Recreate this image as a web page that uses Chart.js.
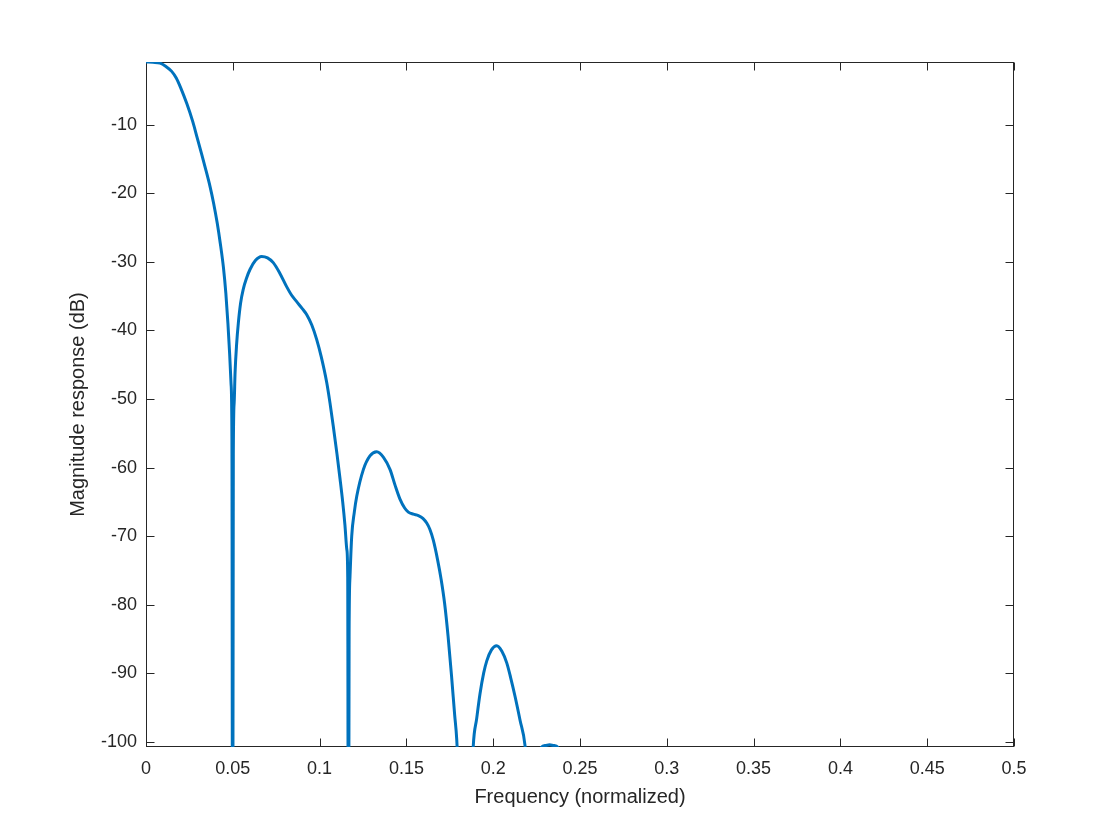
<!DOCTYPE html>
<html>
<head>
<meta charset="utf-8">
<script src="https://cdn.jsdelivr.net/npm/chart.js@4.4.1/dist/chart.umd.min.js"></script>
<style>
  html, body { margin: 0; padding: 0; background: #fff; }
  #wrap { width: 1120px; height: 840px; }
</style>
</head>
<body>
<div id="wrap"><canvas id="magChart" width="1120" height="840"></canvas></div>
<script>
/* magnitude response; values below the axis floor are off-chart estimates */
var freq = [
  0, 0.004, 0.0081, 0.0115, 0.0148, 0.0175, 0.0200, 0.0235, 0.0269, 0.0295,
  0.0321, 0.0345, 0.0369, 0.0390, 0.0410, 0.0428, 0.0446, 0.0460, 0.0472, 0.0482,
  0.0490, 0.0495, 0.0499, 0.0503, 0.0508, 0.0513, 0.0522, 0.0532, 0.0545, 0.0560,
  0.0580, 0.0599, 0.0630, 0.0666, 0.0700, 0.0733, 0.0770, 0.0810, 0.0840, 0.0868,
  0.0900, 0.0926, 0.0955, 0.0983, 0.1010, 0.1041, 0.1060, 0.1079, 0.1100, 0.1118,
  0.1133, 0.1146, 0.1157, 0.1162, 0.1166, 0.1170, 0.1175, 0.1185, 0.1200, 0.1214,
  0.1252, 0.1290, 0.1329, 0.1368, 0.1406, 0.1435, 0.1463, 0.1490, 0.1511, 0.1540,
  0.1569, 0.1595, 0.1617, 0.1635, 0.1655, 0.1680, 0.1700, 0.1720, 0.1740, 0.1760,
  0.1778, 0.1790, 0.1815, 0.1840, 0.1865, 0.1885, 0.1905, 0.1924, 0.1945, 0.1963,
  0.1990, 0.2020, 0.2050, 0.2078, 0.2100, 0.2126, 0.2155, 0.2183, 0.2205, 0.2230,
  0.2255, 0.2278, 0.2300, 0.2325, 0.2350, 0.2372, 0.2390, 0.2420, 0.2500, 0.3000,
  0.3500, 0.4000, 0.4500, 0.5000
];
var magDb = [
  -0.83, -0.88, -1.0, -1.5, -2.2, -3.2, -4.6, -6.9, -9.5, -11.9,
  -14.3, -16.6, -19.0, -21.5, -24.3, -27.3, -30.8, -34.6, -39.0, -43.5,
  -47.8, -56.0, -140, -58.0, -50.5, -46.2, -42.0, -38.9, -36.0, -34.0,
  -32.3, -31.1, -29.8, -29.2, -29.4, -30.1, -31.6, -33.6, -34.9, -35.8,
  -36.8, -37.7, -39.2, -41.3, -43.9, -47.6, -50.6, -54.0, -58.0, -61.7,
  -65.0, -68.4, -72.0, -76.0, -140, -84.0, -76.0, -70.0, -66.5, -64.2,
  -60.3, -58.3, -57.7, -58.5, -60.3, -62.6, -64.6, -65.9, -66.5, -66.8,
  -67.0, -67.4, -68.1, -69.0, -70.6, -73.5, -76.3, -79.8, -84.6, -90.4,
  -96.1, -99.7, -115, -130, -115, -100.7, -96.6, -93.0, -90.0, -88.2,
  -86.6, -86.0, -86.8, -88.5, -90.6, -93.4, -96.9, -100.5, -108, -125,
  -106, -100.8, -100.55, -100.45, -100.55, -100.8, -105, -125, -112, -120,
  -122, -125, -125, -130
];
var xTicks = [0, 0.05, 0.1, 0.15, 0.2, 0.25, 0.3, 0.35, 0.4, 0.45, 0.5];
var xTickLabels = ["0", "0.05", "0.1", "0.15", "0.2", "0.25", "0.3", "0.35", "0.4", "0.45", "0.5"];
var yTicks = [-100, -90, -80, -70, -60, -50, -40, -30, -20, -10];
var yTickLabels = ["-100", "-90", "-80", "-70", "-60", "-50", "-40", "-30", "-20", "-10"];
var yMin = -100.77;
var yMax = -0.83;

var textColor = "#262626";
var fontFamily = "'Liberation Sans', Arial, Helvetica, sans-serif";

// MATLAB style box with ticks pointing inward on all four sides
var boxPlugin = {
  id: "boxPlugin",
  beforeDatasetsDraw: function (chart) {
    var ctx = chart.ctx;
    var a = chart.chartArea;
    var xs = chart.scales.x;
    var ys = chart.scales.y;
    var tl = 8;
    var l = Math.round(a.left) + 0.5, r = Math.round(a.right) - 0.5;
    var t = Math.round(a.top) + 0.5, b = Math.round(a.bottom) - 0.5;
    ctx.save();
    ctx.strokeStyle = textColor;
    ctx.lineWidth = 1;
    ctx.strokeRect(l, t, r - l, b - t);
    ctx.beginPath();
    xTicks.forEach(function (v) {
      var px = Math.round(xs.getPixelForValue(v)) + 0.5;
      ctx.moveTo(px, b); ctx.lineTo(px, b - tl);
      ctx.moveTo(px, t); ctx.lineTo(px, t + tl);
    });
    yTicks.forEach(function (v) {
      var py = Math.round(ys.getPixelForValue(v)) + 0.5;
      ctx.moveTo(l, py); ctx.lineTo(l + tl, py);
      ctx.moveTo(r, py); ctx.lineTo(r - tl, py);
    });
    ctx.stroke();
    ctx.restore();
  }
};

window.onload = function () {
  var ctx = document.getElementById("magChart").getContext("2d");
  var points = freq.map(function (f, i) { return { x: f, y: magDb[i] }; });

  window.magChart = new Chart(ctx, {
    type: "line",
    data: {
      datasets: [{
        label: "Magnitude",
        data: points,
        borderColor: "#0072BD",
        borderWidth: 3,
        pointRadius: 0,
        fill: false,
        cubicInterpolationMode: "monotone"
      }]
    },
    options: {
      responsive: false,
      animation: false,
      layout: { padding: { top: 62, right: 106, left: 0, bottom: 0 } },
      plugins: {
        legend: { display: false },
        tooltip: { enabled: false }
      },
      scales: {
        x: {
          type: "linear",
          min: 0,
          max: 0.5,
          grid: { display: false, drawTicks: false },
          border: { display: false },
          afterBuildTicks: function (scale) {
            scale.ticks = xTicks.map(function (v) { return { value: v }; });
          },
          afterFit: function (scale) { scale.height = 93; },
          ticks: {
            color: textColor,
            padding: 11,
            maxRotation: 0,
            font: { family: fontFamily, size: 18 },
            callback: function (value, index) { return xTickLabels[index]; }
          },
          title: {
            display: true,
            text: "Frequency (normalized)",
            color: textColor,
            font: { family: fontFamily, size: 20 },
            padding: { top: 0, bottom: 31 }
          }
        },
        y: {
          type: "linear",
          min: yMin,
          max: yMax,
          grid: { display: false, drawTicks: false },
          border: { display: false },
          afterBuildTicks: function (scale) {
            scale.ticks = yTicks.map(function (v) { return { value: v }; });
          },
          afterFit: function (scale) { scale.width = 146; },
          ticks: {
            color: textColor,
            padding: 9,
            font: { family: fontFamily, size: 18 },
            callback: function (value, index) { return yTickLabels[index]; }
          },
          title: {
            display: true,
            text: "Magnitude response (dB)",
            color: textColor,
            font: { family: fontFamily, size: 20 },
            padding: { top: 66, bottom: 0 }
          }
        }
      }
    },
    plugins: [boxPlugin]
  });
};
</script>
</body>
</html>
